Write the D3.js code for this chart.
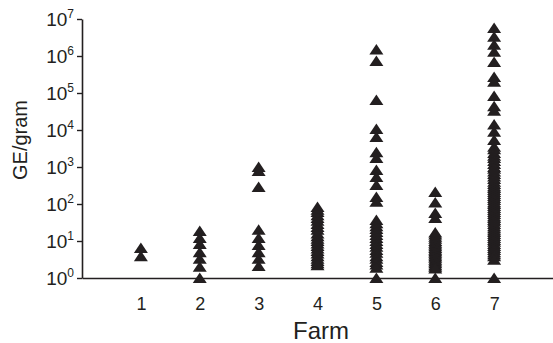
<!DOCTYPE html>
<html>
<head>
<meta charset="utf-8">
<script src="https://cdn.jsdelivr.net/npm/d3@7"></script>
<style>
  html, body { margin: 0; padding: 0; background: #fff; }
  svg { display: block; font-family: "Liberation Sans", Arial, Helvetica, sans-serif; }
</style>
</head>
<body>
<svg id="chart" width="553" height="343"></svg>
<script>
// ---- data ----
const farms = [1, 2, 3, 4, 5, 6, 7];
const farm1 = [6.5, 3.9];
const farm2 = [18.6, 12, 8.3, 5, 3.3, 2, 1];
const farm3 = [1000, 780, 290, 20, 12, 7.8, 5, 3.3, 2.1];
const farm4 = [83, 70, 61, 50, 42, 35, 29, 24, 20, 16, 13.5, 11.5, 10, 8.5, 7.3, 6.3,
               5.4, 4.6, 3.9, 3.3, 2.9, 2.5, 2.2];
const farm5 = [1.5e6, 7.3e5, 6.5e4, 1.07e4, 6.5e3, 2500, 1750, 830, 540, 325, 155, 115,
               37, 30, 25, 21, 17.5, 14.5, 12, 10, 8.3, 7, 5.7, 4.8, 3.9, 3.3, 2.7,
               2.3, 1.9, 1];
const farm6 = [210, 110, 57, 42, 17, 15, 13, 11.5, 10, 9, 8, 7.2, 6.5, 5.8, 5.3, 4.8,
               4.3, 3.9, 3.5, 3.1, 2.8, 2.5, 2.2, 2, 1.8, 1];
const farm7 = [5.7e6, 3.3e6, 2.0e6, 1.3e6, 6.9e5, 2.7e5, 2.0e5, 8.3e4, 4.4e4, 3.3e4,
               1.4e4, 8.9e3, 5.4e3, 3500, 3000, 2400, 2000, 1750, 1450, 1200, 1000,
               890, 760, 650, 550, 475, 400, 345, 300, 270, 240, 210, 185, 165, 145,
               128, 112, 100, 88, 78, 69, 61, 54, 47, 42, 37, 33, 29, 25, 22, 19.5,
               17.5, 15.5, 13.7, 12, 10.6, 9.5, 8.3, 7.3, 6.5, 5.7, 5, 4.4, 3.9, 3.1, 1];
const farmValues = [farm1, farm2, farm3, farm4, farm5, farm6, farm7];
const yTickValues = [1, 10, 100, 1000, 1e4, 1e5, 1e6, 1e7];
const yTickExponents = ["0", "1", "2", "3", "4", "5", "6", "7"];
const xTitle = "Farm";
const yTitle = "GE/gram";

// ---- chart ----
const ink = "#231f20";
const svg = d3.select("#chart");
const axisX = 82, axisY = 278;

const x = d3.scaleLinear().domain([0, 8]).range([axisX, 553]);
const y = d3.scaleLog().domain([1, 1e7]).range([axisY, 19]);

// points
const points = [];
farms.forEach((f, i) => farmValues[i].forEach(v => points.push({ farm: f, value: v })));

const tri = "M0,-5.5L7,5L-7,5Z";
svg.append("g").selectAll("path")
  .data(points)
  .join("path")
  .attr("d", tri)
  .attr("transform", d => `translate(${x(d.farm)},${y(d.value)})`)
  .attr("fill", ink);

// x axis
const gx = svg.append("g")
  .attr("transform", `translate(0,${axisY})`)
  .call(d3.axisBottom(x).tickValues(farms).tickSize(0).tickSizeOuter(0).tickPadding(19).tickFormat(d3.format("d")));
gx.attr("font-family", null);
gx.select(".domain").attr("stroke", ink).attr("stroke-width", 1.6);
gx.selectAll("text").attr("font-size", 18).attr("fill", ink);

// y axis
const gy = svg.append("g")
  .attr("transform", `translate(${axisX},0)`)
  .call(d3.axisLeft(y).tickValues(yTickValues).tickSize(5).tickSizeOuter(0).tickFormat(() => ""));
gy.attr("font-family", null);
gy.select(".domain").attr("stroke", ink).attr("stroke-width", 1.6);
gy.selectAll(".tick line").attr("stroke", ink).attr("stroke-width", 1.4);
gy.selectAll(".tick text").each(function (d, i) {
  const t = d3.select(this)
    .attr("x", -8)
    .attr("dy", "0.32em")
    .attr("fill", ink)
    .attr("font-size", 19)
    .attr("text-anchor", "end");
  t.text(null);
  t.append("tspan").text("10");
  t.append("tspan").attr("font-size", 12).attr("dy", "-0.6em").text(yTickExponents[i]);
});

// titles
svg.append("text")
  .attr("x", 321).attr("y", 339)
  .attr("text-anchor", "middle")
  .attr("font-size", 24)
  .attr("fill", ink)
  .text(xTitle);

svg.append("text")
  .attr("transform", "translate(27,140) rotate(-90)")
  .attr("text-anchor", "middle")
  .attr("font-size", 20)
  .attr("fill", ink)
  .text(yTitle);
</script>
</body>
</html>
